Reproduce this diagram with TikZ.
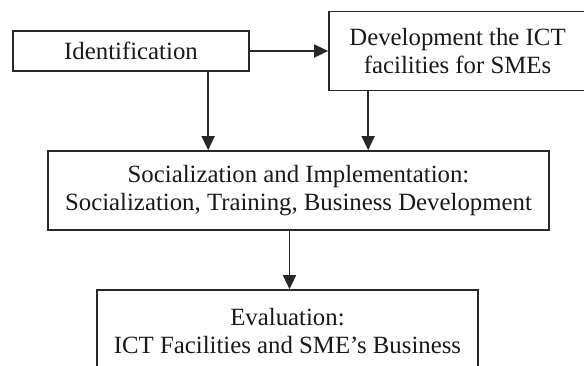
\documentclass[tikz,border=0pt]{standalone}
\usepackage{fontspec}
\setmainfont{Liberation Serif}
\usetikzlibrary{arrows.meta}

\definecolor{inkline}{RGB}{40,40,40}
\definecolor{inktext}{RGB}{25,25,25}

\tikzset{
  stagebox/.style={draw=inkline, line width=1.7pt, fill=white, inner sep=0pt,
    align=center, text=inktext, font=\fontsize{24.8}{28}\selectfont},
  flowarrow/.style={draw=inkline, line width=1.6pt,
    -{Triangle[length=14pt,width=13pt]}}
}

\begin{document}
\begin{tikzpicture}[x=1pt,y=-1pt]
  \useasboundingbox[fill=white] (0,0) rectangle (584,365);

  % stages of the programme
  \node[stagebox, minimum width=236pt, minimum height=40pt] (ident) at (131,51)
    {Identification};
  \node[stagebox, minimum width=257pt, minimum height=79pt] (dev) at (457.5,51)
    {Development the ICT\\facilities for SMEs};
  \node[stagebox, minimum width=501pt, minimum height=79pt] (soc) at (298.5,190.5)
    {Socialization and Implementation:\\Socialization, Training, Business Development};
  \node[stagebox, minimum width=381pt, minimum height=83pt] (eval) at (287.5,331.5)
    {Evaluation:\\ICT Facilities and SME’s Business};

  % connectors
  \draw[flowarrow] (ident.east) -- (ident.east -| dev.west);
  \path (ident.south west) ++(196,0) coordinate (identdrop);
  \draw[flowarrow] (identdrop) -- (identdrop |- soc.north);
  \path (dev.south west) ++(40,0) coordinate (devdrop);
  \draw[flowarrow] (devdrop) -- (devdrop |- soc.north);
  \path (eval.north) ++(2,0) coordinate (evaltop);
  \draw[flowarrow] (evaltop |- soc.south) -- (evaltop);
\end{tikzpicture}
\end{document}
